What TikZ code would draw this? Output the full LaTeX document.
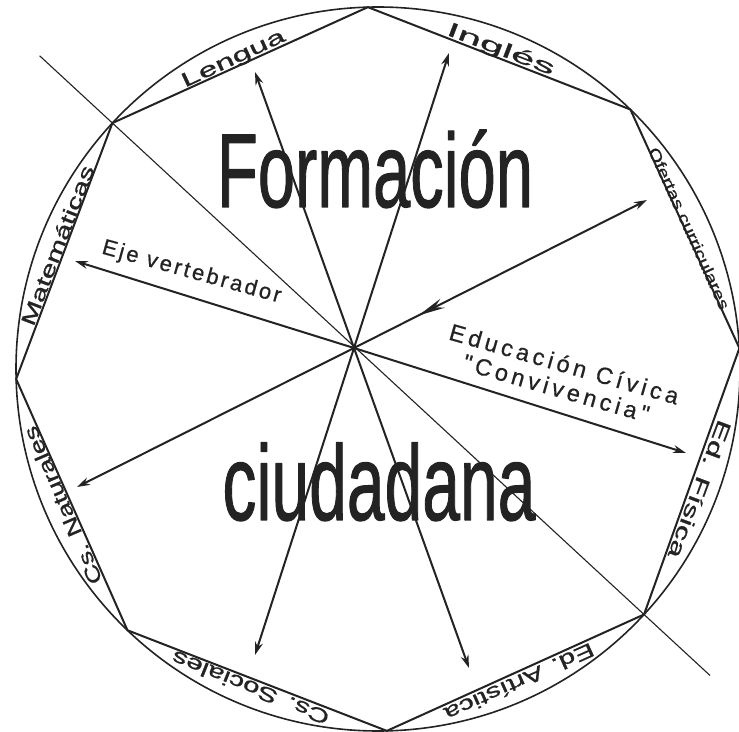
\documentclass[tikz,border=0pt]{standalone}
\usepackage{fontspec}
\usepackage{graphicx}
\setmainfont{Liberation Sans}
\newfontfamily\bigf[FakeBold=1.2]{Liberation Sans}
\newfontfamily\segf[FakeBold=0.8]{Liberation Sans}
\newfontfamily\ejef[LetterSpace=12,FakeBold=0.6]{Liberation Sans}
\newfontfamily\civf[LetterSpace=17,FakeBold=0.6]{Liberation Sans}
\usetikzlibrary{arrows.meta,calc,decorations.markings}
\definecolor{ink}{RGB}{35,35,35}
\newcommand{\seglab}[6]{%
  \node[seg, rotate=#2-90] (#1) at ($(O)+(#2:#3)$) {\resizebox{#4}{\height}{#5#6}};}
\begin{document}
\begin{tikzpicture}[x=1pt,y=1pt, line join=round,
  arr/.style={draw=ink, color=ink, line width=2pt, -{Stealth[length=13pt,width=8pt]}},
  seg/.style={anchor=base, inner sep=0pt, text=ink},
  bigw/.style={anchor=base, inner sep=0pt, text=ink},
  arrlab/.style={anchor=base, inner sep=0pt, text=ink}]
\useasboundingbox (0,0) rectangle (739,731);
\fill[white] (0,0) rectangle (739,731);
\coordinate (O) at (378,362);
\coordinate (C) at (354,383);
\foreach \n/\a in {V1/137.2, V2/91.6, V3/45.8, V4/3.3, V5/-42.7, V6/-88.6, V7/-133.8, V8/181.6}
  \coordinate (\n) at ($(O)+(\a:362)$);
% circle and octagon
\draw[ink, line width=1.6pt] (O) circle (362);
\draw[ink, line width=2pt] (V1)--(V2)--(V3)--(V4)--(V5)--(V6)--(V7)--(V8)--cycle;
% thin diagonal
\coordinate (D1) at ($(V1)!-0.137!(V5)$);
\coordinate (D2) at ($(V5)!-0.124!(V1)$);
\draw[ink, line width=1.1pt] (D1) -- (D2);
% arrow tips
\coordinate (TL) at (255,659);
\coordinate (TI) at (449,678);
\coordinate (TO) at (647,531);
\coordinate (TE) at (75,470);
\coordinate (TC) at (686,278);
\coordinate (TN) at (77,244);
\coordinate (TS) at (255,76);
\coordinate (TA) at (469,63);
\draw[arr] (C) -- (TL);
\draw[arr] (C) -- (TI);
\draw[arr, postaction={decorate}, decoration={markings, mark=at position 0.22 with {\arrowreversed{Stealth[length=27pt,width=10pt]}}}] (C) -- (TO);
\draw[arr] (C) -- (TE);
\draw[arr] (C) -- (TC);
\draw[arr] (C) -- (TN);
\draw[arr] (C) -- (TS);
\draw[arr] (C) -- (TA);
% big words
\node[bigw] (w1) at (375,524) {\resizebox{316pt}{\height}{\bigf\fontsize{105}{105}\selectfont Formación}};
\node[bigw] (w2) at (379,211) {\resizebox{313pt}{\height}{\bigf\fontsize{107}{107}\selectfont ciudadana}};
% arrow labels
\node[arrlab, rotate=-15.5, font=\ejef\fontsize{22}{26}\selectfont] (eje) at (190,453) {Eje vertebrador};
\node[arrlab, rotate=-16, font=\civf\fontsize{23.5}{28}\selectfont] (edc) at (562,359) {Educación Cívica};
\node[arrlab, rotate=-16, font=\civf\fontsize{23.5}{28}\selectfont] (conv) at (554,335) {"Convivencia"};
% segment labels (straight, along the chords)
\seglab{lLen}{115}{336.5}{112pt}{\segf\fontsize{20}{24}\selectfont}{Lengua}
\seglab{lIng}{69}{336.5}{114pt}{\segf\fontsize{20}{24}\selectfont}{Inglés}
\seglab{lOf}{24.3}{336}{176pt}{\segf\fontsize{15.5}{18}\selectfont}{Ofertas curriculares}
\seglab{lFis}{-20.5}{336.5}{146pt}{\segf\fontsize{20}{24}\selectfont}{Ed. Física}
\seglab{lArt}{-65.7}{336.5}{162pt}{\segf\fontsize{20}{24}\selectfont}{Ed. Artística}
\seglab{lSoc}{-111.8}{336.5}{168pt}{\segf\fontsize{20}{24}\selectfont}{Cs. Sociales}
\seglab{lNat}{-156.6}{336.5}{170pt}{\segf\fontsize{20}{24}\selectfont}{Cs. Naturales}
\seglab{lMat}{158.9}{336.5}{170pt}{\segf\fontsize{20}{24}\selectfont}{Matemáticas}
\end{tikzpicture}
\end{document}
